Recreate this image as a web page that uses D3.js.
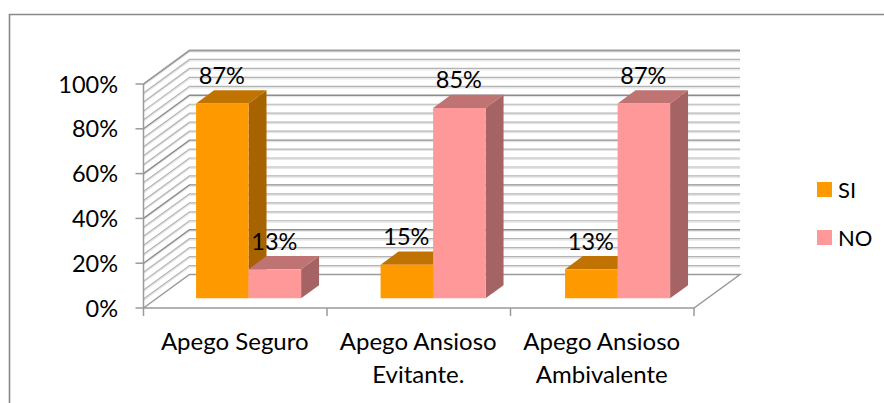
<!DOCTYPE html>
<html lang="en">
<head>
<meta charset="utf-8">
<title>Apego</title>
<script src="https://cdn.jsdelivr.net/npm/d3@7"></script>
<style>
html, body { margin: 0; padding: 0; background: #fff; }
svg { display: block; }
text { font-family: Lato, "Open Sans", sans-serif; fill: #000; }
</style>
</head>
<body>
<svg id="chart" width="884" height="403"></svg>
<script>
var categories = [["Apego Seguro"], ["Apego Ansioso", "Evitante."], ["Apego Ansioso", "Ambivalente"]];
var seriesNames = ["SI", "NO"];
var siValues = [87, 15, 13];
var noValues = [13, 85, 87];
var yTicks = [0, 20, 40, 60, 80, 100];
var gridTicks = d3.range(0, 101, 4);

var colors = {
  SI: { front: "#ff9900", side: "#a66300", top: "#c07300" },
  NO: { front: "#ff9999", side: "#a66363", top: "#c07373" }
};

var svg = d3.select("#chart");
var fontSize = 23.5;

// front plane of the box
var x0 = 143.5, x1 = 694, y0 = 308;
// how far back the box goes
var depthX = 46, depthY = -33.5;

var y = d3.scaleLinear().domain([0, 100]).range([y0, y0 - 224]);
var xBand = d3.scaleBand().domain(d3.range(3)).range([x0, x1]);
// bars sit a touch wider apart than the ticks in the picture
var xBars = d3.scaleBand().domain(d3.range(3)).range([x0, x1 + 3]);
var xInner = d3.scaleBand().domain(seriesNames).range([0, xBand.bandwidth()]).paddingInner(0).paddingOuter(0.747);

// projection: p is x on the front plane, v the value, d the depth 0..1
function px(p, d) { return p + depthX * d; }
function py(v, d) { return y(v) + depthY * d; }
function pts(list) {
  return list.map(function(a) { return px(a[0], a[2]) + "," + py(a[1], a[2]); }).join(" ");
}

// frame, only left and top show
svg.append("path")
  .attr("d", "M9.5,403V14.5H884")
  .attr("fill", "none")
  .attr("stroke", "#898989")
  .attr("stroke-width", 1.6);

// wall lines, pale shadow first
var grid = svg.append("g").attr("fill", "none");
gridTicks.forEach(function(t) {
  var major = t % 20 === 0;
  if (t === 0) return;
  var line = "M" + px(x0, 0) + "," + py(t, 0) + "L" + px(x0, 1) + "," + py(t, 1) + "H" + px(x1, 1);
  grid.append("path").attr("d", line).attr("transform", "translate(0,1.4)")
    .attr("stroke", "#e6e6e6").attr("stroke-width", 1.3);
  grid.append("path").attr("d", line)
    .attr("stroke", major ? "#8c8c8c" : "#b4b4b4").attr("stroke-width", major ? 1.4 : 1.2);
});

// floor and box edges
var box = svg.append("g").attr("fill", "none").attr("stroke", "#9a9a9a").attr("stroke-width", 1.5);
box.append("path").attr("d", "M" + px(x0, 0) + "," + py(100, 0) + "V" + py(0, 0) + "H" + px(x1, 0) +
  "L" + px(x1, 1) + "," + py(0, 1) + "H" + px(x0, 1) + "L" + px(x0, 0) + "," + py(0, 0));
box.append("path").attr("d", "M" + px(x0, 0) + "," + py(100, 0) + "L" + px(x0, 1) + "," + py(100, 1) + "H" + px(x1, 1));

// axis ticks
yTicks.forEach(function(t) {
  box.append("line").attr("x1", x0 - 8).attr("x2", x0).attr("y1", y(t)).attr("y2", y(t));
  svg.append("text").attr("x", 118).attr("y", y(t) + 8.5).attr("text-anchor", "end")
    .attr("font-size", fontSize).text(t + "%");
});
d3.range(4).forEach(function(i) {
  var tx = i < 3 ? xBand(i) : x1;
  box.append("line").attr("x1", tx).attr("x2", tx).attr("y1", y0).attr("y2", y0 + 8);
});
categories.forEach(function(lines, i) {
  lines.forEach(function(s, k) {
    svg.append("text").attr("x", xBand(i) + xBand.bandwidth() / 2 - 0.5)
      .attr("y", 350 + k * 32.5).attr("text-anchor", "middle")
      .attr("font-size", fontSize + 0.5).text(s);
  });
});

// bars
var dFront = 0.29, dBack = 0.68;
var bars = [];
seriesNames.forEach(function(name, s) {
  var vals = s === 0 ? siValues : noValues;
  vals.forEach(function(v, i) { bars.push({ name: name, i: i, v: v }); });
});
bars.sort(function(a, b) { return a.i - b.i; });

bars.forEach(function(b) {
  var a = xBars(b.i) + xInner(b.name), c = a + xInner.bandwidth(), col = colors[b.name];
  var g = svg.append("g");
  g.append("polygon").attr("fill", col.side).attr("points",
    pts([[c, 0, dFront], [c, 0, dBack], [c, b.v, dBack], [c, b.v, dFront]]));
  g.append("polygon").attr("fill", col.top).attr("points",
    pts([[a, b.v, dFront], [c, b.v, dFront], [c, b.v, dBack], [a, b.v, dBack]]));
  g.append("polygon").attr("fill", col.front).attr("points",
    pts([[a, 0, dFront], [c, 0, dFront], [c, b.v, dFront], [a, b.v, dFront]]));
});

// labels go on top of every bar
bars.forEach(function(b) {
  var a = xBars(b.i) + xInner(b.name);
  svg.append("text")
    .attr("x", px(a + xInner.bandwidth() / 2, dFront) - 0.5)
    .attr("y", py(b.v, dBack) - 6.5)
    .attr("text-anchor", "middle")
    .attr("font-size", fontSize)
    .text(b.v + "%");
});

// legend
var legendY = d3.scalePoint().domain(seriesNames).range([182, 230]);
seriesNames.forEach(function(name) {
  svg.append("rect").attr("x", 817).attr("y", legendY(name)).attr("width", 15).attr("height", 15)
    .attr("fill", colors[name].front);
  svg.append("text").attr("x", 838).attr("y", legendY(name) + 15.5).attr("font-size", 22).text(name);
});
</script>
</body>
</html>
